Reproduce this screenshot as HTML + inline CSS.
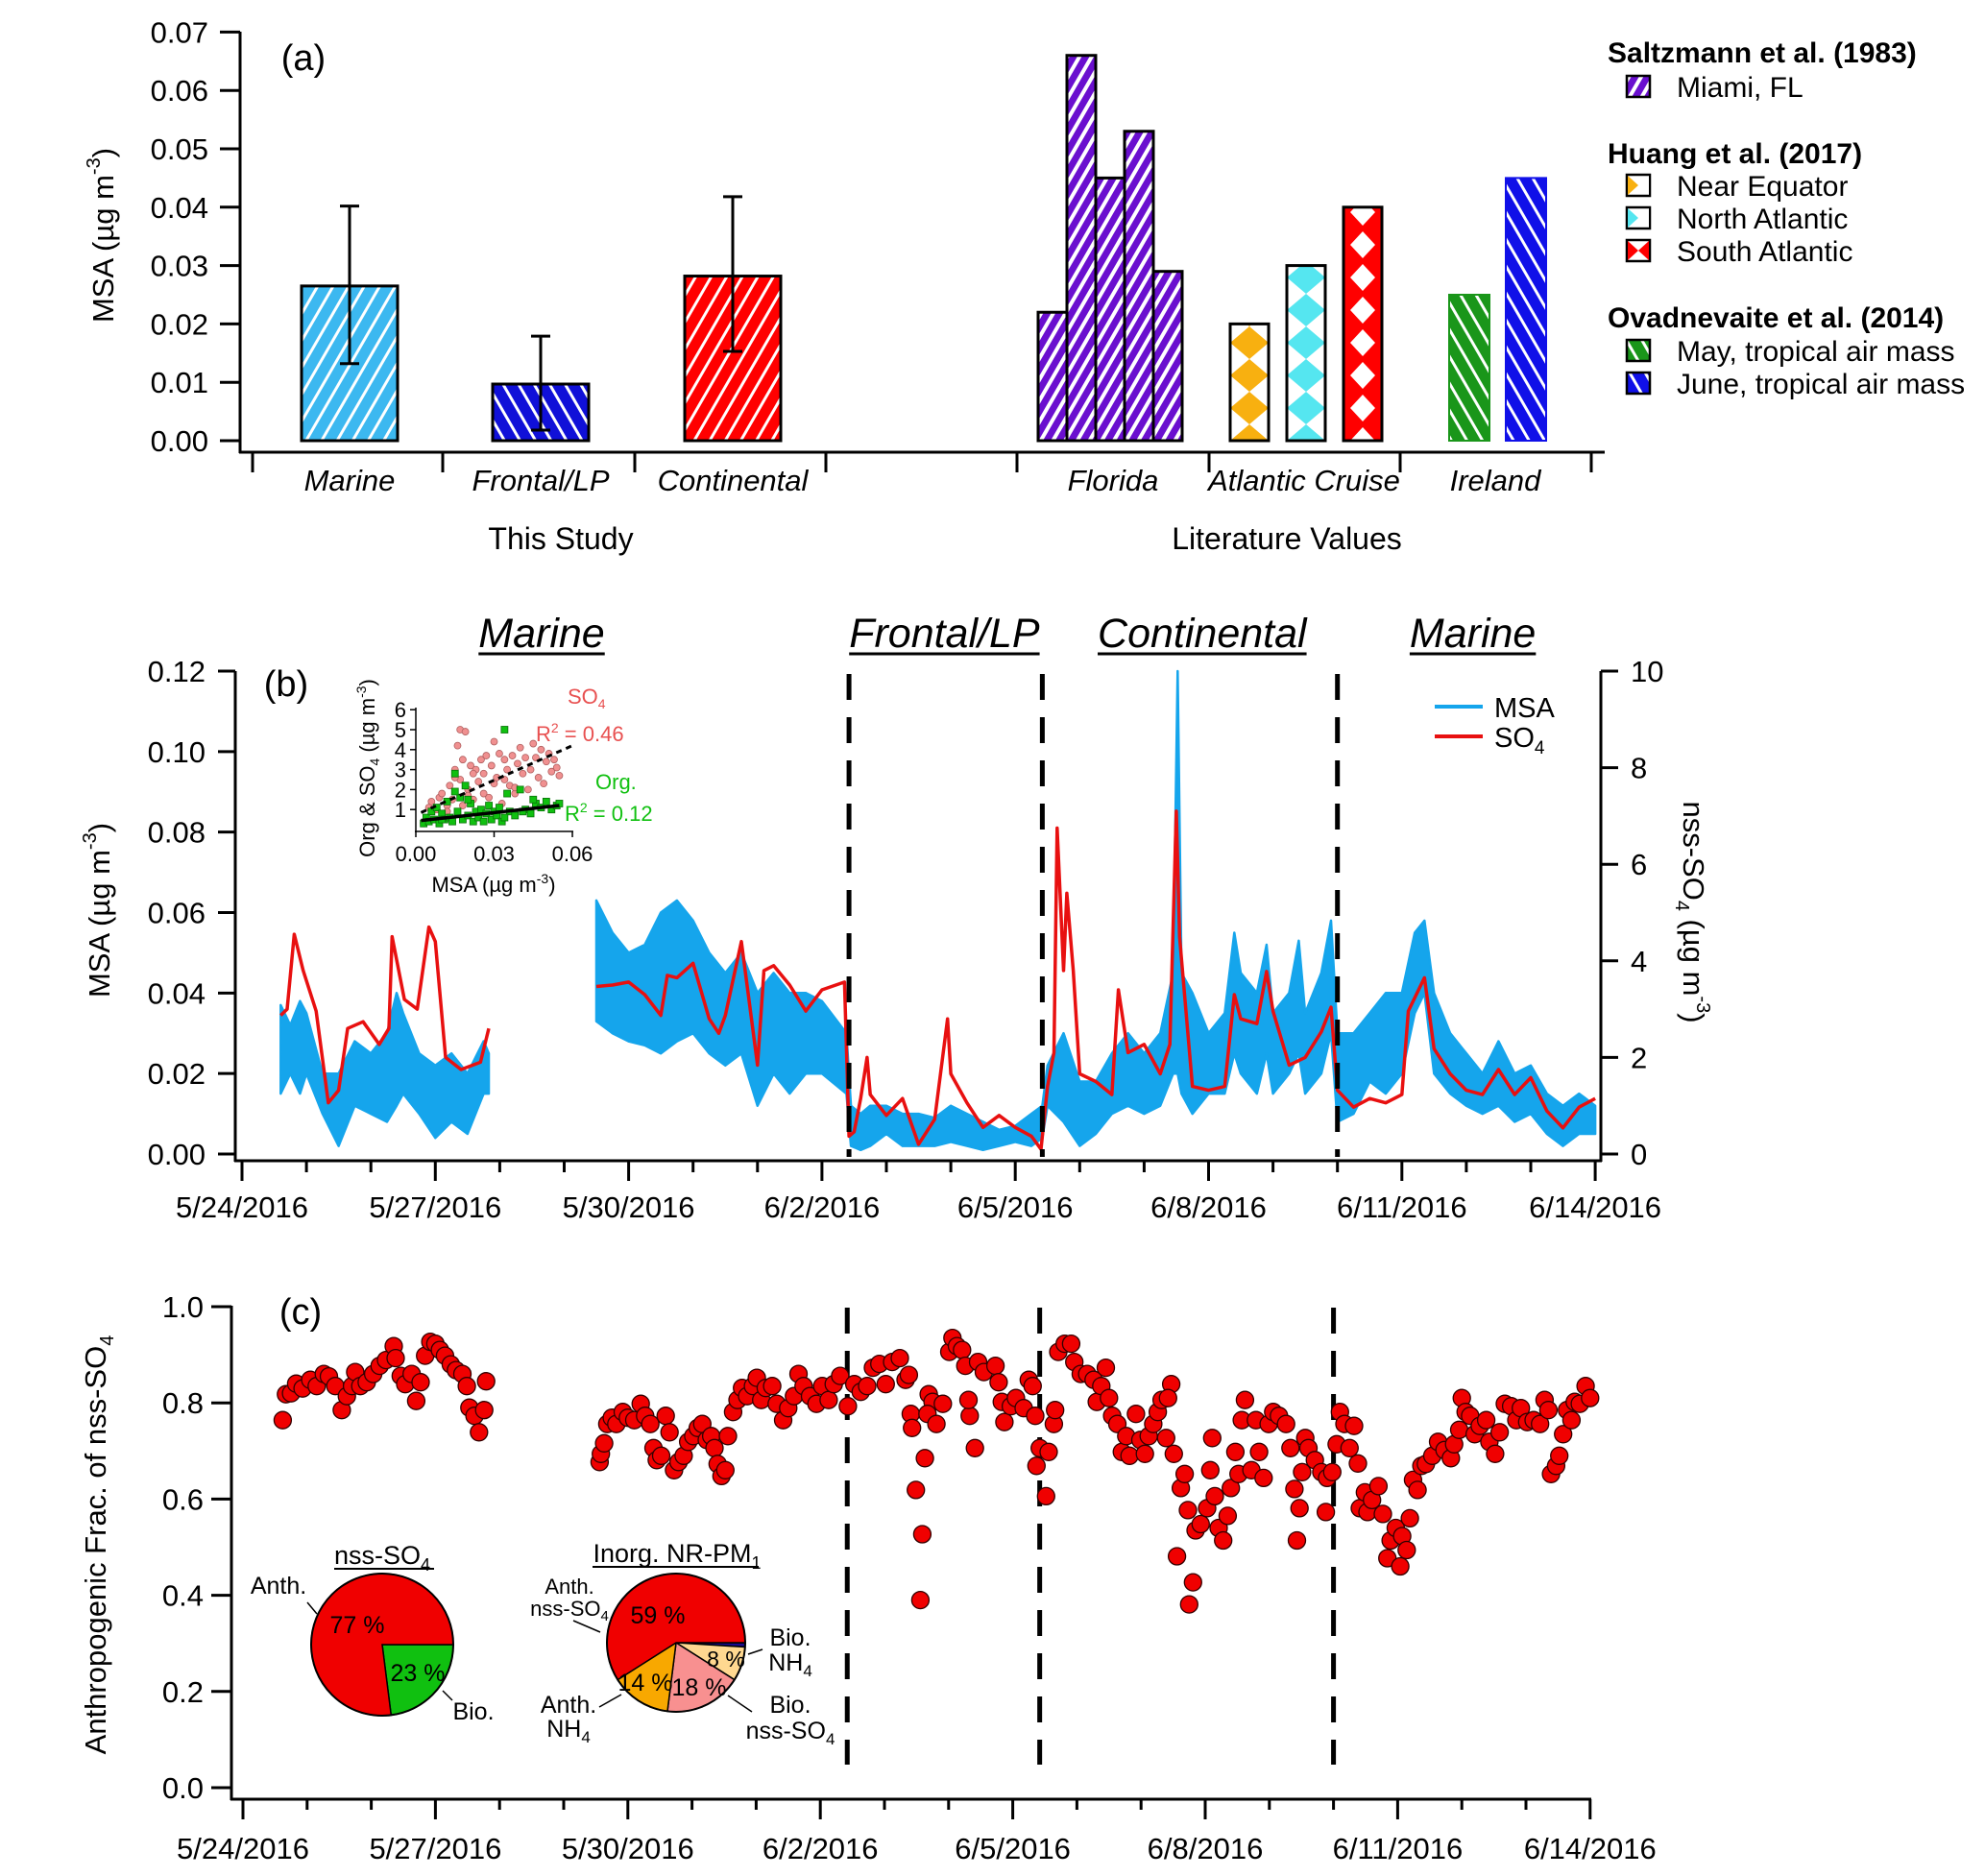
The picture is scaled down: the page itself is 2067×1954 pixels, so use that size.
<!DOCTYPE html>
<html><head><meta charset="utf-8"><style>
html,body{margin:0;padding:0;background:#fff}
svg{display:block}
text{font-family:"Liberation Sans Narrow","Liberation Sans",sans-serif;fill:#000}
.rg{font-family:"Liberation Sans",sans-serif}
</style></head><body>
<svg id="fig" xmlns="http://www.w3.org/2000/svg" width="2067" height="1954" viewBox="0 0 2067 1954">
<defs>
<pattern id="pMarine" patternUnits="userSpaceOnUse" width="14" height="14" patternTransform="rotate(30)"><rect width="14" height="14" fill="#3cb8f0"/><rect x="0" y="0" width="3" height="14" fill="#fff"/></pattern>
<pattern id="pFrontal" patternUnits="userSpaceOnUse" width="14" height="14" patternTransform="rotate(-30)"><rect width="14" height="14" fill="#1010d8"/><rect x="0" y="0" width="3" height="14" fill="#fff"/></pattern>
<pattern id="pCont" patternUnits="userSpaceOnUse" width="14" height="14" patternTransform="rotate(30)"><rect width="14" height="14" fill="#f00"/><rect x="0" y="0" width="3" height="14" fill="#fff"/></pattern>
<pattern id="pFla" patternUnits="userSpaceOnUse" width="11" height="11" patternTransform="rotate(30)"><rect width="11" height="11" fill="#6a0fcf"/><rect x="0" y="0" width="4" height="11" fill="#fff"/></pattern>
<pattern id="pEq" patternUnits="userSpaceOnUse" x="1281" y="0" width="40" height="34"><rect width="40" height="34" fill="#fff"/><polygon points="20,0 40,17 20,34 0,17" fill="#f8b010"/></pattern>
<pattern id="pNA" patternUnits="userSpaceOnUse" x="1340" y="0" width="40" height="34"><rect width="40" height="34" fill="#fff"/><polygon points="20,0 40,17 20,34 0,17" fill="#55e6f0"/></pattern>
<pattern id="pSA" patternUnits="userSpaceOnUse" x="1399" y="0" width="40" height="34"><rect width="40" height="34" fill="#f00"/><polygon points="20,3 33,17 20,31 7,17" fill="#fff"/></pattern>
<pattern id="pMay" patternUnits="userSpaceOnUse" width="14" height="14" patternTransform="rotate(-30)"><rect width="14" height="14" fill="#1a961a"/><rect x="0" y="0" width="3" height="14" fill="#fff"/></pattern>
<pattern id="pJune" patternUnits="userSpaceOnUse" width="14" height="14" patternTransform="rotate(-30)"><rect width="14" height="14" fill="#1010e8"/><rect x="0" y="0" width="3" height="14" fill="#fff"/></pattern>
</defs>
<g id="pa"></g>
<g id="pb"></g>
<g id="pc"></g>
</svg>
<script>
// ===== Panel (a) data =====
const studyCats = ["Marine", "Frontal/LP", "Continental"];
const studyVals = [0.0265, 0.0097, 0.0282];
const studyErrLo = [0.0132, 0.0018, 0.0153];
const studyErrHi = [0.0402, 0.0179, 0.0418];
const floridaVals = [0.022, 0.066, 0.045, 0.053, 0.029];
const atlanticVals = [0.020, 0.030, 0.040];
const irelandVals = [0.025, 0.045];
const aTicks = [0, 0.01, 0.02, 0.03, 0.04, 0.05, 0.06, 0.07];
const aTickLabels = ["0.00","0.01","0.02","0.03","0.04","0.05","0.06","0.07"];
const litCats = ["Florida", "Atlantic Cruise", "Ireland"];

// ===== Panel (b) data (day offset from 5/24/2016 00:00) =====
const msaT = [0.6,0.75,0.9,1.0,1.25,1.5,1.75,2.0,2.25,2.4,2.5,2.75,3.0,3.25,3.5,3.75,3.83,null,
5.5,5.75,6.0,6.25,6.5,6.75,7.0,7.25,7.5,7.75,8.0,8.25,8.5,8.75,9.0,9.38,9.45,9.6,9.75,10.0,10.25,10.5,10.75,11.0,11.25,11.5,11.75,12.0,12.25,12.42,12.5,12.75,13.0,13.25,13.5,13.75,14.0,14.25,14.45,14.52,14.58,14.75,15.0,15.25,15.4,15.5,15.75,15.9,16.0,16.25,16.4,16.5,16.75,16.9,17.0,17.25,17.5,17.75,18.0,18.2,18.35,18.5,18.75,19.0,19.25,19.5,19.75,20.0,20.25,20.5,20.75,21.0];
const msaLo = [0.015,0.020,0.015,0.020,0.010,0.002,0.012,0.010,0.008,0.012,0.015,0.010,0.004,0.008,0.005,0.015,0.015,null,
0.033,0.030,0.028,0.027,0.025,0.028,0.030,0.025,0.022,0.025,0.012,0.020,0.015,0.020,0.020,0.015,0.002,0.001,0.002,0.005,0.002,0.002,0.002,0.003,0.002,0.001,0.002,0.003,0.002,0.004,0.012,0.008,0.002,0.005,0.010,0.012,0.010,0.012,0.020,0.020,0.015,0.010,0.015,0.015,0.025,0.020,0.015,0.025,0.015,0.020,0.025,0.015,0.020,0.030,0.008,0.010,0.018,0.015,0.020,0.035,0.040,0.020,0.015,0.012,0.010,0.012,0.008,0.010,0.005,0.002,0.005,0.005];
const msaHi = [0.037,0.032,0.038,0.035,0.020,0.020,0.028,0.025,0.030,0.040,0.035,0.025,0.022,0.025,0.020,0.028,0.025,null,
0.063,0.055,0.050,0.052,0.060,0.063,0.058,0.050,0.045,0.050,0.040,0.045,0.040,0.040,0.038,0.030,0.012,0.010,0.012,0.012,0.010,0.010,0.009,0.012,0.010,0.008,0.006,0.007,0.010,0.012,0.022,0.030,0.018,0.018,0.025,0.030,0.025,0.030,0.045,0.120,0.045,0.040,0.030,0.035,0.055,0.045,0.040,0.052,0.035,0.040,0.053,0.035,0.045,0.058,0.030,0.030,0.035,0.040,0.040,0.055,0.058,0.040,0.030,0.025,0.020,0.028,0.020,0.022,0.015,0.012,0.015,0.012];
const so4T = [0.6,0.7,0.81,0.95,1.15,1.34,1.5,1.64,1.88,2.13,2.28,2.33,2.52,2.72,2.9,3.0,3.16,3.4,3.7,3.83,null,
5.5,5.75,6.0,6.25,6.5,6.6,6.75,7.0,7.25,7.4,7.5,7.75,8.0,8.1,8.25,8.5,8.75,9.0,9.35,9.42,9.5,9.6,9.7,9.75,10.0,10.25,10.5,10.75,10.95,11.0,11.25,11.5,11.75,12.0,12.25,12.4,12.5,12.6,12.65,12.75,12.8,12.9,13.0,13.25,13.5,13.6,13.75,14.0,14.25,14.4,14.5,14.55,14.75,15.0,15.25,15.4,15.5,15.75,15.9,16.0,16.25,16.5,16.75,16.9,17.0,17.25,17.5,17.75,18.0,18.1,18.35,18.5,18.75,19.0,19.25,19.5,19.75,20.0,20.25,20.5,20.75,21.0];
const so4V = [2.87,3.0,4.55,3.8,2.96,1.06,1.32,2.6,2.74,2.27,2.6,4.5,3.2,3.0,4.7,4.4,2.0,1.75,1.9,2.6,null,
3.47,3.5,3.56,3.3,2.87,3.7,3.65,3.95,2.8,2.5,2.87,4.4,1.84,3.8,3.9,3.5,2.96,3.4,3.56,0.37,0.46,1.15,2.0,1.23,0.8,1.15,0.2,0.72,2.8,1.66,1.06,0.55,0.8,0.55,0.37,0.1,1.4,2.1,6.75,3.8,5.4,3.8,1.66,1.5,1.23,3.4,2.1,2.27,1.66,2.27,7.1,4.5,1.4,1.32,1.4,3.3,2.8,2.7,3.78,2.96,1.84,2.0,2.53,3.04,1.32,0.97,1.15,1.06,1.23,2.96,3.65,2.18,1.66,1.32,1.23,1.75,1.23,1.58,0.89,0.54,0.97,1.15];
const bTicksL = [0,0.02,0.04,0.06,0.08,0.10,0.12];
const bTickLabelsL = ["0.00","0.02","0.04","0.06","0.08","0.10","0.12"];
const bTicksR = [0,2,4,6,8,10];
const dateLabels = ["5/24/2016","5/27/2016","5/30/2016","6/2/2016","6/5/2016","6/8/2016","6/11/2016","6/14/2016"];
const periodBounds = [9.42, 12.42, 17.0];
const periodNames = ["Marine","Frontal/LP","Continental","Marine"];
const periodCenters = [4.65, 10.9, 14.9, 19.1];

// inset scatter
const insSo4X = [0.003,0.005,0.006,0.008,0.009,0.010,0.012,0.013,0.014,0.015,0.016,0.017,0.017,0.018,0.019,0.020,0.021,0.022,0.023,0.024,0.025,0.026,0.027,0.028,0.029,0.030,0.031,0.032,0.033,0.034,0.035,0.036,0.037,0.038,0.039,0.040,0.041,0.042,0.043,0.044,0.045,0.046,0.047,0.048,0.049,0.050,0.051,0.052,0.053,0.054,0.055,0.015,0.018,0.022,0.026,0.030,0.034,0.038,0.012,0.020];
const insSo4Y = [0.3,1.1,1.4,1.0,1.6,1.8,1.2,2.2,1.5,3.0,4.2,5.0,2.5,3.5,4.9,2.0,3.2,1.5,3.0,2.4,3.5,2.8,3.7,1.6,3.2,4.4,2.6,3.8,1.3,3.5,3.0,2.2,3.7,1.8,3.3,4.1,2.8,3.6,2.0,3.0,4.3,3.6,2.6,4.0,2.3,3.4,3.8,2.9,3.5,3.1,2.7,2.6,1.2,2.8,1.8,2.3,2.5,2.1,0.9,1.7];
const insOrgX = [0.003,0.004,0.005,0.006,0.007,0.008,0.009,0.010,0.011,0.012,0.013,0.014,0.015,0.016,0.017,0.018,0.019,0.020,0.021,0.022,0.023,0.024,0.025,0.026,0.027,0.028,0.029,0.030,0.031,0.032,0.033,0.034,0.035,0.036,0.038,0.040,0.042,0.044,0.046,0.048,0.050,0.052,0.054,0.055,0.015,0.020,0.034,0.041,0.045,0.010];
const insOrgY = [0.3,0.6,0.4,0.9,0.5,1.1,0.3,0.8,0.5,1.4,0.6,0.4,2.8,0.9,1.6,0.5,2.2,0.7,1.3,0.4,0.9,0.6,1.0,0.4,0.8,1.2,0.5,0.9,0.7,1.1,0.4,5.0,1.8,0.9,0.7,2.0,1.0,0.8,1.3,1.1,1.4,1.0,1.2,1.3,1.9,1.5,0.6,0.9,1.5,0.5];

// ===== Panel (c) data =====
const cT = [0.62,0.67,0.75,0.83,0.93,1.05,1.15,1.26,1.34,1.44,1.54,1.62,1.7,1.75,1.83,1.93,2.03,2.13,2.23,2.35,2.38,2.46,2.53,2.63,2.7,2.77,2.84,2.92,3.0,3.07,3.15,3.24,3.32,3.42,3.49,3.53,3.61,3.68,3.76,3.79,
5.56,5.58,5.63,5.68,5.75,5.82,5.92,6.0,6.1,6.2,6.27,6.35,6.4,6.45,6.52,6.59,6.65,6.72,6.79,6.87,6.94,7.02,7.09,7.16,7.23,7.3,7.35,7.4,7.46,7.52,7.56,7.64,7.71,7.78,7.86,7.95,8.01,8.08,8.15,8.25,8.32,8.42,8.5,8.59,8.66,8.74,8.84,8.94,9.03,9.13,9.21,9.31,9.43,9.53,9.63,9.73,9.82,9.92,10.02,10.12,10.24,10.33,10.38,10.41,10.43,10.49,10.59,10.56,10.63,10.69,10.75,10.67,10.81,10.91,11.01,11.06,11.13,11.21,11.26,11.33,11.31,11.41,11.46,11.55,
11.73,11.78,11.83,11.87,11.97,12.05,12.17,12.25,12.31,12.35,12.37,12.42,12.52,12.56,12.64,12.66,12.71,12.81,12.91,12.96,13.06,13.16,13.26,13.31,13.38,13.45,13.5,13.55,13.63,13.7,13.77,13.82,13.92,13.99,14.06,14.12,14.19,14.26,14.32,14.39,14.47,14.42,14.51,14.56,14.62,14.68,14.73,14.75,14.81,14.85,14.93,15.03,15.08,15.11,15.15,15.21,15.28,15.35,15.4,15.47,15.52,15.57,15.62,15.72,15.79,15.84,15.91,15.99,16.06,16.15,16.26,16.33,16.39,16.43,16.47,16.51,16.56,16.61,16.71,16.81,16.88,16.9,16.98,17.05,17.1,17.17,17.25,17.32,17.38,17.41,17.49,17.53,17.6,17.7,17.77,17.84,17.89,17.97,18.04,18.07,18.14,18.19,18.24,18.31,18.37,18.44,18.54,18.63,18.73,18.83,18.88,18.96,19.0,19.06,19.13,19.2,19.28,19.38,19.43,19.52,19.59,19.67,19.77,19.85,19.92,20.02,20.12,20.22,20.29,20.35,20.39,20.47,20.52,20.58,20.64,20.71,20.76,20.84,20.93,21.0];
const cV = [0.764,0.818,0.82,0.84,0.83,0.848,0.835,0.86,0.855,0.835,0.785,0.814,0.835,0.864,0.835,0.843,0.86,0.877,0.889,0.918,0.893,0.856,0.839,0.86,0.804,0.843,0.898,0.927,0.923,0.91,0.898,0.88,0.868,0.86,0.835,0.79,0.773,0.739,0.785,0.845,
0.677,0.694,0.716,0.756,0.769,0.756,0.781,0.769,0.764,0.798,0.773,0.756,0.706,0.681,0.69,0.773,0.739,0.66,0.677,0.69,0.719,0.731,0.748,0.756,0.723,0.731,0.706,0.673,0.648,0.66,0.731,0.781,0.806,0.831,0.814,0.835,0.852,0.806,0.831,0.835,0.798,0.764,0.789,0.814,0.86,0.835,0.814,0.798,0.835,0.806,0.839,0.856,0.793,0.839,0.823,0.835,0.873,0.881,0.839,0.885,0.893,0.848,0.858,0.777,0.748,0.619,0.527,0.39,0.685,0.818,0.802,0.777,0.756,0.798,0.906,0.935,0.918,0.91,0.877,0.773,0.806,0.706,0.885,0.864,
0.877,0.843,0.802,0.76,0.793,0.81,0.789,0.848,0.835,0.773,0.669,0.706,0.606,0.698,0.756,0.785,0.906,0.923,0.923,0.885,0.86,0.86,0.848,0.802,0.835,0.873,0.81,0.773,0.756,0.698,0.731,0.69,0.777,0.723,0.694,0.731,0.756,0.781,0.806,0.727,0.839,0.81,0.694,0.481,0.623,0.652,0.577,0.381,0.427,0.535,0.548,0.581,0.66,0.727,0.606,0.54,0.514,0.565,0.623,0.698,0.652,0.764,0.806,0.66,0.764,0.698,0.644,0.756,0.781,0.773,0.756,0.706,0.621,0.514,0.581,0.656,0.727,0.706,0.681,0.656,0.573,0.644,0.656,0.714,0.781,0.756,0.706,0.752,0.674,0.581,0.614,0.573,0.598,0.627,0.569,0.477,0.514,0.54,0.46,0.523,0.494,0.56,0.64,0.619,0.669,0.673,0.69,0.719,0.702,0.685,0.714,0.744,0.81,0.781,0.773,0.735,0.752,0.764,0.719,0.694,0.739,0.798,0.793,0.764,0.789,0.76,0.764,0.756,0.806,0.785,0.652,0.669,0.69,0.735,0.785,0.764,0.802,0.798,0.835,0.81];
const cTicks = [0,0.2,0.4,0.6,0.8,1.0];
const cTickLabels = ["0.0","0.2","0.4","0.6","0.8","1.0"];
const pie1Vals = [23, 77];
const pie1Colors = ["#10c010", "#f00000"];
const pie2Vals = [1, 8, 18, 14, 59];
const pie2Colors = ["#1a0a90", "#ffd890", "#f89090", "#f8a800", "#f00000"];

// ===== helpers =====
const NS = "http://www.w3.org/2000/svg";
function mk(parent, tag, attrs, txt) {
  const e = document.createElementNS(NS, tag);
  for (const k in attrs) e.setAttribute(k, attrs[k]);
  if (txt !== undefined) e.textContent = txt;
  parent.appendChild(e);
  return e;
}
function line(p, x1, y1, x2, y2, w, extra) {
  const e = mk(p, "line", Object.assign({x1, y1, x2, y2, stroke: "#000", "stroke-width": w}, extra || {}));
  return e;
}

// ===== Panel (a) =====
const pa = document.getElementById("pa");
const ya = v => 459 - v * 6080;
line(pa, 250, 33, 250, 472, 3);
line(pa, 249, 471, 1671, 471, 3);
aTicks.forEach((t, i) => {
  const tk = line(pa, 229, ya(t), 250, ya(t), 3);
  
  
  const lb = mk(pa, "text", {x: 217, y: ya(t) + 11, "text-anchor": "end", "font-size": 31}, aTickLabels[i]);
  
  
});
[263, 461, 661, 860, 1059, 1259, 1458, 1657].forEach(x => line(pa, x, 471, x, 492, 3));
const aLabel = mk(pa, "text", {x: 0, y: 0, "text-anchor": "middle", "font-size": 31, class: "rg", transform: "translate(118,245) rotate(-90)"});


aLabel.innerHTML = 'MSA (µg m<tspan font-size="20" dy="-14">-3</tspan><tspan dy="14">)</tspan>';
mk(pa, "text", {x: 316, y: 73, "text-anchor": "middle", "font-size": 38}, "(a)");
const studyX = [314, 513, 713];
const studyFill = ["url(#pMarine)", "url(#pFrontal)", "url(#pCont)"];
studyVals.forEach((v, i) => {
  const r = mk(pa, "rect", {x: studyX[i], y: ya(v), width: 100, height: ya(0) - ya(v), fill: studyFill[i], stroke: "#000", "stroke-width": 3});
  
  
  const cx = studyX[i] + 50;
  line(pa, cx, ya(studyErrLo[i]), cx, ya(studyErrHi[i]), 3);
  line(pa, cx - 10, ya(studyErrLo[i]), cx + 10, ya(studyErrLo[i]), 3);
  line(pa, cx - 10, ya(studyErrHi[i]), cx + 10, ya(studyErrHi[i]), 3);
  const lb = mk(pa, "text", {x: cx, y: 511, "text-anchor": "middle", "font-size": 31, "font-style": "italic"}, studyCats[i]);
  
  
});
floridaVals.forEach((v, i) => {
  const x = 1081 + i * 30;
  const r = mk(pa, "rect", {x, y: ya(v), width: 30, height: ya(0) - ya(v), fill: "url(#pFla)", stroke: "#000", "stroke-width": 3});
  
  
});
const atlX = [1281, 1340, 1399], atlFill = ["url(#pEq)", "url(#pNA)", "url(#pSA)"];
atlanticVals.forEach((v, i) => {
  const r = mk(pa, "rect", {x: atlX[i], y: ya(v), width: 40, height: ya(0) - ya(v), fill: atlFill[i], stroke: "#000", "stroke-width": 3});
  
  
});
const ireX = [1509, 1568], ireFill = ["url(#pMay)", "url(#pJune)"], ireStroke = ["#1a961a", "#1010e8"];
irelandVals.forEach((v, i) => {
  const r = mk(pa, "rect", {x: ireX[i], y: ya(v), width: 42, height: ya(0) - ya(v), fill: ireFill[i], stroke: ireStroke[i], "stroke-width": 2});
  
  
});
const litCX = [1159, 1358, 1557];
litCats.forEach((c, i) => mk(pa, "text", {x: litCX[i], y: 511, "text-anchor": "middle", "font-size": 31, "font-style": "italic"}, c));
mk(pa, "text", {x: 584, y: 572, "text-anchor": "middle", "font-size": 32}, "This Study");
mk(pa, "text", {x: 1340, y: 572, "text-anchor": "middle", "font-size": 32}, "Literature Values");
// legend a
const legA = [
  ["t", "Saltzmann et al. (1983)", 55],
  ["e", "Miami, FL", 91, "url(#pFla)", "#6a0fcf"],
  ["t", "Huang et al. (2017)", 160],
  ["e", "Near Equator", 194, "url(#pEq)", "#f8b010"],
  ["e", "North Atlantic", 228, "url(#pNA)", "#55e6f0"],
  ["e", "South Atlantic", 262, "url(#pSA)", "#f00"],
  ["t", "Ovadnevaite et al. (2014)", 331],
  ["e", "May, tropical air mass", 366, "url(#pMay)", "#1a961a"],
  ["e", "June, tropical air mass", 400, "url(#pJune)", "#1010e8"]
];
legA.forEach(l => {
  if (l[0] === "t") {
    const t = mk(pa, "text", {x: 1674, y: l[2] + 10, "font-size": 30, "font-weight": "bold"}, l[1]);
    
    
  } else {
    const isDiamond = l[3].indexOf("pEq") > 0 || l[3].indexOf("pNA") > 0 || l[3].indexOf("pSA") > 0;
    const s = mk(pa, "rect", {x: 1694, y: l[2] - 12, width: 24, height: 22, fill: isDiamond ? "#fff" : l[3], stroke: "#000", "stroke-width": 2.5});
    
    
    if (isDiamond) {
      mk(pa, "polygon", {points: `1695,${l[2]-11} 1706,${l[2]-1} 1695,${l[2]+9}`, fill: l[4]});
      mk(pa, "polygon", {points: `1717,${l[2]-11} 1706,${l[2]-1} 1717,${l[2]+9}`, fill: l[4] === "#f00" ? "#f00" : "#fff"});
    }
    const t = mk(pa, "text", {x: 1746, y: l[2] + 10, "font-size": 30}, l[1]);
    
    
  }
});

// ===== Panel (b) =====
const pb = document.getElementById("pb");
const xb = d => 252 + 67.1 * d;
const ybL = v => 1202 - 4191.7 * v;
const ybR = s => 1202 - 50.3 * s;
function segments(T) {
  const segs = []; let cur = [];
  T.forEach((t, i) => { if (t === null) { if (cur.length) segs.push(cur); cur = []; } else cur.push(i); });
  if (cur.length) segs.push(cur);
  return segs;
}
segments(msaT).forEach(seg => {
  const top = seg.map(i => xb(msaT[i]).toFixed(1) + "," + ybL(msaHi[i]).toFixed(1));
  const bot = seg.slice().reverse().map(i => xb(msaT[i]).toFixed(1) + "," + ybL(msaLo[i]).toFixed(1));
  const p = mk(pb, "polygon", {points: top.concat(bot).join(" "), fill: "#15a5ec", stroke: "#15a5ec", "stroke-width": 2.5, "stroke-linejoin": "round"});
  
  
});
segments(so4T).forEach(seg => {
  const pts = seg.map(i => xb(so4T[i]).toFixed(1) + "," + ybR(so4V[i]).toFixed(1)).join(" ");
  const p = mk(pb, "polyline", {points: pts, fill: "none", stroke: "#e81010", "stroke-width": 3.5, "stroke-linejoin": "round"});
  
  
});
line(pb, 245, 699, 245, 1210, 3);
line(pb, 244, 1209, 1668, 1209, 3);
line(pb, 1667, 699, 1667, 1210, 3);
bTicksL.forEach((t, i) => {
  line(pb, 227, ybL(t), 245, ybL(t), 3);
  const lb = mk(pb, "text", {x: 214, y: ybL(t) + 11, "text-anchor": "end", "font-size": 31}, bTickLabelsL[i]);
  
  
});
bTicksR.forEach(t => {
  line(pb, 1667, ybR(t), 1685, ybR(t), 3);
  const lb = mk(pb, "text", {x: 1698, y: ybR(t) + 11, "font-size": 31}, String(t));
  
  
});
for (let d = 0; d <= 21; d++) line(pb, xb(d), 1209, xb(d), d % 3 === 0 ? 1230 : 1221, 3);
dateLabels.forEach((s, i) => {
  const lb = mk(pb, "text", {x: xb(i * 3), y: 1268, "text-anchor": "middle", "font-size": 31}, s);
  
  
});
const bl = mk(pb, "text", {x: 0, y: 0, "text-anchor": "middle", "font-size": 31, class: "rg", transform: "translate(114,948) rotate(-90)"});


bl.innerHTML = 'MSA (µg m<tspan font-size="20" dy="-14">-3</tspan><tspan dy="14">)</tspan>';
const br = mk(pb, "text", {x: 0, y: 0, "text-anchor": "middle", "font-size": 31, class: "rg", transform: "translate(1753,950) rotate(90)"});


br.innerHTML = 'nss-SO<tspan font-size="20" dy="8">4</tspan><tspan dy="-8"> (µg m</tspan><tspan font-size="20" dy="-14">-3</tspan><tspan dy="14">)</tspan>';
mk(pb, "text", {x: 298, y: 725, "text-anchor": "middle", "font-size": 38}, "(b)");
periodBounds.forEach(d => {
  const l = line(pb, xb(d), 702, xb(d), 1205, 5, {"stroke-dasharray": "27,18"});
  
  
});
periodNames.forEach((n, i) => {
  const t = mk(pb, "text", {x: xb(periodCenters[i]), y: 674, "text-anchor": "middle", "font-size": 43, "font-style": "italic"}, n);
  
  
  const w = t.getComputedTextLength ? t.getComputedTextLength() : 150;
  line(pb, xb(periodCenters[i]) - w / 2, 681, xb(periodCenters[i]) + w / 2, 681, 3);
});
// legend b
line(pb, 1494, 736, 1544, 736, 4, {stroke: "#15a5ec"});
mk(pb, "text", {x: 1556, y: 747, "font-size": 29}, "MSA");
line(pb, 1494, 767, 1544, 767, 4, {stroke: "#e81010"});
const l2 = mk(pb, "text", {x: 1556, y: 778, "font-size": 29});
l2.innerHTML = 'SO<tspan font-size="19" dy="7">4</tspan>';
// inset
const ix = v => 433 + v * 2717;
const iy = v => 864 - v * 20.8;
insSo4X.forEach((x, i) => {
  const c = mk(pb, "circle", {cx: ix(x), cy: iy(insSo4Y[i]), r: 3.5, fill: "#f09090", stroke: "#b06060", "stroke-width": 0.8});
  
  
});
insOrgX.forEach((x, i) => {
  const c = mk(pb, "rect", {x: ix(x) - 3.5, y: iy(insOrgY[i]) - 3.5, width: 7, height: 7, fill: "#10c010", stroke: "#087008", "stroke-width": 0.8});
  
  
});
line(pb, ix(0.002), iy(0.85), ix(0.06), iy(4.2), 3, {"stroke-dasharray": "6,5"});
line(pb, ix(0.002), iy(0.45), ix(0.055), iy(1.2), 3.5);
line(pb, 433, 737, 433, 867, 1.5);
line(pb, 432, 866, 597, 866, 1.5);
[1,2,3,4,5,6].forEach(t => { line(pb, 427, iy(t), 433, iy(t), 1.5); mk(pb, "text", {x: 423, y: iy(t) + 8, "text-anchor": "end", "font-size": 22, class: "rg"}, String(t)); });
[0, 0.03, 0.06].forEach((t, i) => { line(pb, ix(t), 866, ix(t), 872, 1.5); mk(pb, "text", {x: ix(t), y: 897, "text-anchor": "middle", "font-size": 22, class: "rg"}, ["0.00","0.03","0.06"][i]); });
const ixl = mk(pb, "text", {x: 514, y: 929, "text-anchor": "middle", "font-size": 22, class: "rg"});
ixl.innerHTML = 'MSA (µg m<tspan font-size="14" dy="-9">-3</tspan><tspan dy="9">)</tspan>';
const iyl = mk(pb, "text", {x: 0, y: 0, "text-anchor": "middle", "font-size": 22, class: "rg", transform: "translate(390,800) rotate(-90)"});
iyl.innerHTML = 'Org &amp; SO<tspan font-size="14" dy="5">4</tspan><tspan dy="-5"> (µg m</tspan><tspan font-size="14" dy="-9">-3</tspan><tspan dy="9">)</tspan>';
const s1 = mk(pb, "text", {x: 591, y: 733, "font-size": 22, class: "rg", style: "fill:#e85050"});
s1.innerHTML = 'SO<tspan font-size="14" dy="5">4</tspan>';
const s2 = mk(pb, "text", {x: 558, y: 772, "font-size": 22, class: "rg", style: "fill:#e85050"});
s2.innerHTML = 'R<tspan font-size="14" dy="-9">2</tspan><tspan dy="9"> = 0.46</tspan>';
mk(pb, "text", {x: 620, y: 822, "font-size": 22, class: "rg", style: "fill:#10c010"}, "Org.");
const s3 = mk(pb, "text", {x: 588, y: 855, "font-size": 22, class: "rg", style: "fill:#10c010"});
s3.innerHTML = 'R<tspan font-size="14" dy="-9">2</tspan><tspan dy="9"> = 0.12</tspan>';

// ===== Panel (c) =====
const pc = document.getElementById("pc");
const xc = d => 253 + 66.8 * d;
const yc = v => 1862 - 501 * v;
periodBounds.forEach(d => {
  const l = line(pc, xc(d), 1362, xc(d), 1838, 5, {"stroke-dasharray": "27,18"});
  
  
});
cT.forEach((t, i) => {
  const c = mk(pc, "circle", {cx: xc(t).toFixed(1), cy: yc(cV[i]).toFixed(1), r: 9, fill: "#f00000", stroke: "#300", "stroke-width": 1.3});
  
  
});
line(pc, 241, 1360, 241, 1875, 3);
line(pc, 240, 1874, 1657, 1874, 3);
cTicks.forEach((t, i) => {
  line(pc, 220, yc(t), 241, yc(t), 3);
  const lb = mk(pc, "text", {x: 212, y: yc(t) + 11, "text-anchor": "end", "font-size": 31}, cTickLabels[i]);
  
  
});
for (let d = 0; d <= 21; d++) line(pc, xc(d), 1874, xc(d), d % 3 === 0 ? 1895 : 1885, 3);
dateLabels.forEach((s, i) => {
  const lb = mk(pc, "text", {x: xc(i * 3), y: 1936, "text-anchor": "middle", "font-size": 31}, s);
  
  
});
const cl = mk(pc, "text", {x: 0, y: 0, "text-anchor": "middle", "font-size": 31, class: "rg", transform: "translate(110,1609) rotate(-90)"});


cl.innerHTML = 'Anthropogenic Frac. of nss-SO<tspan font-size="20" dy="8">4</tspan>';
mk(pc, "text", {x: 313, y: 1379, "text-anchor": "middle", "font-size": 38}, "(c)");
function pie(cx, cy, r, vals, cols, name) {
  const tot = vals.reduce((a, b) => a + b, 0);
  let a0 = 0;
  vals.forEach((v, i) => {
    const a1 = a0 + v / tot * 2 * Math.PI;
    const x0 = cx + r * Math.cos(a0), y0 = cy + r * Math.sin(a0);
    const x1 = cx + r * Math.cos(a1), y1 = cy + r * Math.sin(a1);
    const large = (a1 - a0) > Math.PI ? 1 : 0;
    const p = mk(pc, "path", {d: `M${cx},${cy} L${x0},${y0} A${r},${r} 0 ${large} 1 ${x1},${y1} Z`, fill: cols[i], stroke: "#000", "stroke-width": 1.5});
    
    
    a0 = a1;
  });
  mk(pc, "circle", {cx, cy, r, fill: "none", stroke: "#000", "stroke-width": 2});
}
pie(398, 1713, 74, pie1Vals, pie1Colors, "pie-nss-so4");
pie(704, 1711, 72, pie2Vals, pie2Colors, "pie-inorg");
const t1 = mk(pc, "text", {x: 398, y: 1629, "text-anchor": "middle", "font-size": 27});
t1.innerHTML = 'nss-SO<tspan font-size="18" dy="7">4</tspan>';
line(pc, 348, 1634, 452, 1634, 2);
const t2 = mk(pc, "text", {x: 705, y: 1627, "text-anchor": "middle", "font-size": 27});
t2.innerHTML = 'Inorg. NR-PM<tspan font-size="18" dy="7">1</tspan>';
line(pc, 617, 1632, 790, 1632, 2);
mk(pc, "text", {x: 290, y: 1660, "text-anchor": "middle", "font-size": 25}, "Anth.");
line(pc, 320, 1669, 330, 1681, 1.5);
mk(pc, "text", {x: 372, y: 1701, "text-anchor": "middle", "font-size": 25}, "77 %");
mk(pc, "text", {x: 435, y: 1751, "text-anchor": "middle", "font-size": 25}, "23 %");
mk(pc, "text", {x: 493, y: 1791, "text-anchor": "middle", "font-size": 25}, "Bio.");
line(pc, 461, 1761, 471, 1771, 1.5);
mk(pc, "text", {x: 685, y: 1691, "text-anchor": "middle", "font-size": 25}, "59 %");
mk(pc, "text", {x: 756, y: 1736, "text-anchor": "middle", "font-size": 23}, "8 %");
mk(pc, "text", {x: 728, y: 1766, "text-anchor": "middle", "font-size": 25}, "18 %");
mk(pc, "text", {x: 672, y: 1761, "text-anchor": "middle", "font-size": 25}, "14 %");
mk(pc, "text", {x: 593, y: 1660, "text-anchor": "middle", "font-size": 22}, "Anth.");
const t3 = mk(pc, "text", {x: 593, y: 1683, "text-anchor": "middle", "font-size": 22});
t3.innerHTML = 'nss-SO<tspan font-size="15" dy="5">4</tspan>';
line(pc, 597, 1688, 625, 1700, 1.5);
mk(pc, "text", {x: 823, y: 1714, "text-anchor": "middle", "font-size": 25}, "Bio.");
const t4 = mk(pc, "text", {x: 823, y: 1740, "text-anchor": "middle", "font-size": 25});
t4.innerHTML = 'NH<tspan font-size="17" dy="6">4</tspan>';
line(pc, 779, 1723, 794, 1718, 1.5);
mk(pc, "text", {x: 592, y: 1784, "text-anchor": "middle", "font-size": 25}, "Anth.");
const t5 = mk(pc, "text", {x: 592, y: 1809, "text-anchor": "middle", "font-size": 25});
t5.innerHTML = 'NH<tspan font-size="17" dy="6">4</tspan>';
line(pc, 624, 1778, 647, 1765, 1.5);
mk(pc, "text", {x: 823, y: 1784, "text-anchor": "middle", "font-size": 25}, "Bio.");
const t6 = mk(pc, "text", {x: 823, y: 1811, "text-anchor": "middle", "font-size": 25});
t6.innerHTML = 'nss-SO<tspan font-size="17" dy="6">4</tspan>';
line(pc, 758, 1766, 783, 1783, 1.5);
</script>
</body></html>
